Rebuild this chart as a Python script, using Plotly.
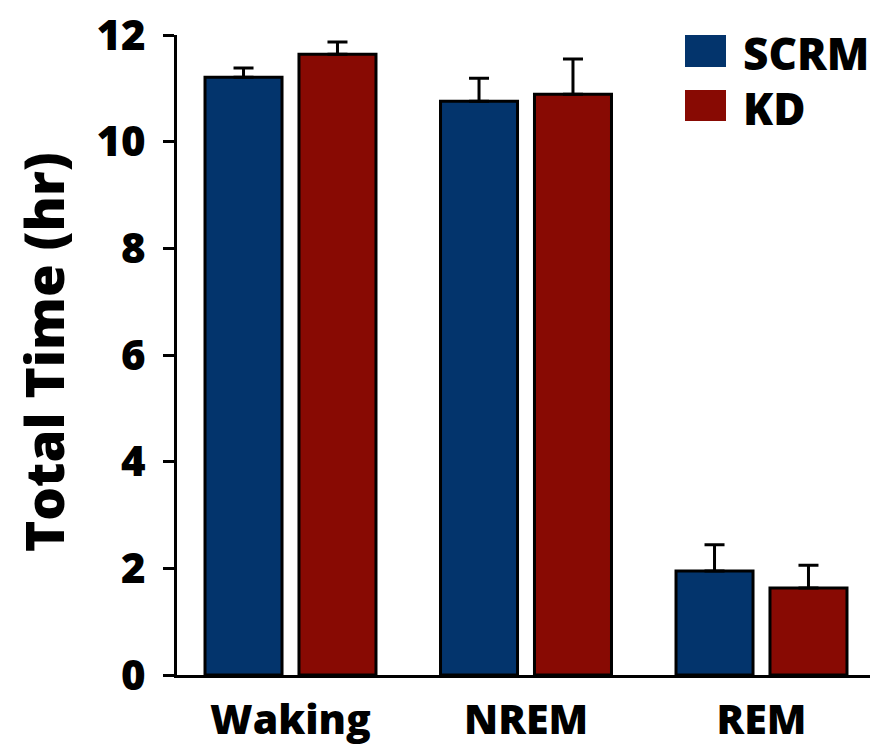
import plotly.graph_objects as go

categories = ["Waking", "NREM", "REM"]
scrm_values = [11.21, 10.76, 1.95]
scrm_errors = [0.17, 0.43, 0.49]
kd_values = [11.64, 10.89, 1.63]
kd_errors = [0.23, 0.66, 0.43]
y_ticks = [0, 2, 4, 6, 8, 10, 12]

SCRM_COLOR = "#03346C"
KD_COLOR = "#880A03"
FONT = "Open Sans"

# body margin is removed in the page, so figure pixels == page pixels
W, H = 880, 753
PL, PT, PR, PB = 177, 35, 870, 675   # plot area in page pixels
L, T = PL, PT
R, B = W - PR, H - PB
PW, PH = PR - PL, PB - PT


def px_x(x):
    return (x - PL) / PW


def px_y(y):
    return 1 - (y - PT) / PH


xpos = list(range(len(categories)))
bar_w = 0.327
gap = 0.072
# category centres at page x 290.5, 526.5, 761.5 -> 235.5 px per unit
unit = 235.5
x0 = -(290.5 - PL) / unit
x1 = x0 + PW / unit

fig = go.Figure()
for name, vals, errs, color, off in [
    ("SCRM", scrm_values, scrm_errors, SCRM_COLOR, -(bar_w + gap / 2)),
    ("KD", kd_values, kd_errors, KD_COLOR, gap / 2),
]:
    fig.add_trace(go.Bar(
        x=xpos, y=vals, name=name, width=bar_w, offset=off,
        marker=dict(color=color, line=dict(color="black", width=3)),
        error_y=dict(type="data", array=errs, arrayminus=[0] * len(errs),
                     symmetric=False, color="black", thickness=3, width=10),
        showlegend=False,
    ))

# legend drawn as shapes + text
legend_items = [("SCRM", SCRM_COLOR, 35, 67), ("KD", KD_COLOR, 90, 121)]
for name, color, y0, y1 in legend_items:
    fig.add_shape(type="rect", xref="paper", yref="paper",
                  x0=px_x(685), x1=px_x(726), y0=px_y(y1), y1=px_y(y0),
                  fillcolor=color, line=dict(width=0))
    fig.add_annotation(text=name, xref="paper", yref="paper",
                       x=px_x(741), y=px_y((y0 + y1) / 2 + 2),
                       xanchor="left", yanchor="middle", showarrow=False,
                       font=dict(family=FONT, size=44, color="black", weight=800))

fig.update_layout(
    width=W, height=H,
    margin=dict(l=L, r=R, t=T, b=B, autoexpand=False),
    plot_bgcolor="white", paper_bgcolor="white",
    barmode="overlay",
    font=dict(family=FONT, color="black"),
    xaxis=dict(
        range=[x0, x1],
        tickvals=xpos, ticktext=categories,
        tickfont=dict(family=FONT, size=41, color="black", weight=800),
        showline=True, linecolor="black", linewidth=3,
        ticks="", showgrid=False, zeroline=False,
        ticklabelstandoff=7, automargin=False, ticklabeloverflow="allow",
    ),
    yaxis=dict(
        range=[0, 12], tickvals=y_ticks,
        tickfont=dict(family=FONT, size=42, color="black", weight=800),
        showline=True, linecolor="black", linewidth=3,
        ticks="outside", ticklen=11, tickwidth=3, tickcolor="black",
        ticklabelstandoff=9, ticklabeloverflow="allow",
        showgrid=False, zeroline=False, automargin=False,
    ),
)

fig.add_annotation(text="Total Time (hr)", xref="paper", yref="paper",
                   x=px_x(43), y=px_y(352), textangle=-90,
                   xanchor="center", yanchor="middle", showarrow=False,
                   font=dict(family=FONT, size=53, color="black", weight=800))

fig.write_html(
    "out.html",
    config={"displayModeBar": False},
    post_script="document.body.style.margin='0px';"
                "document.body.style.overflow='hidden';",
)
